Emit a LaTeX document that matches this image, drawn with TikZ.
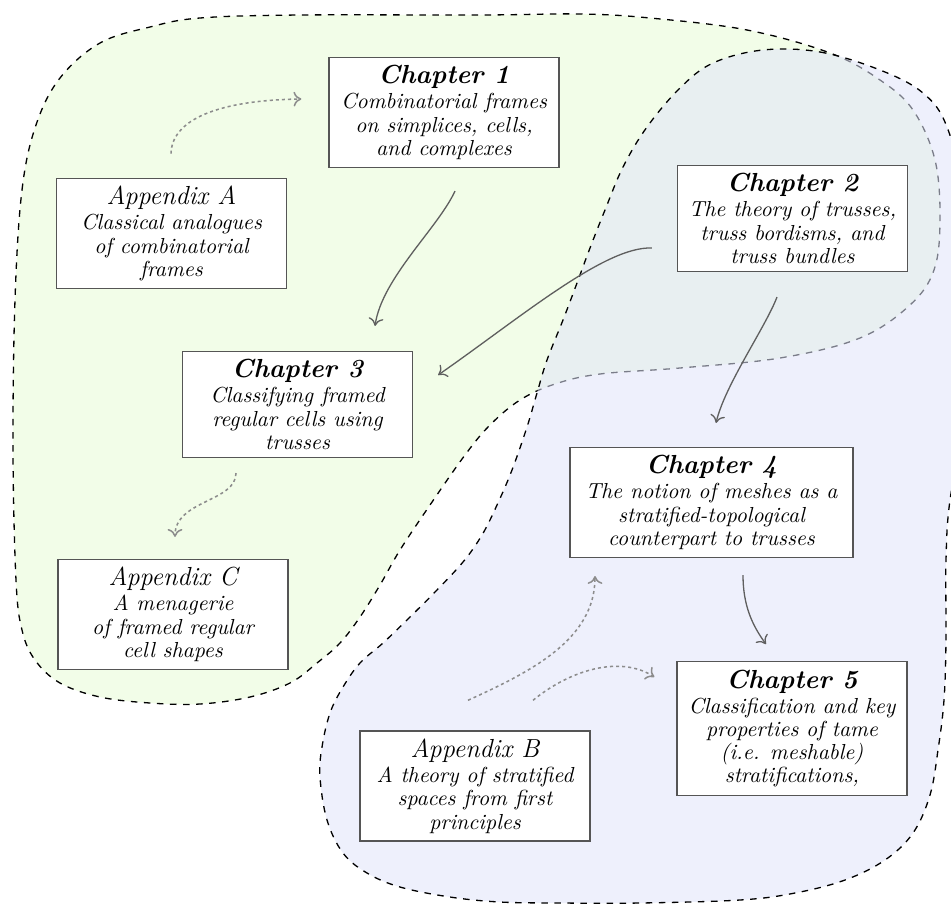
\documentclass[tikz,border=0pt]{standalone}
\usepackage{fontspec}
\usetikzlibrary{arrows.meta,calc}
\definecolor{greenfill}{RGB}{242,253,232}
\definecolor{bluefill}{RGB}{224,228,250}
\definecolor{boxline}{RGB}{85,85,85}
\definecolor{solidarr}{RGB}{95,95,95}
\definecolor{dotarr}{RGB}{140,140,140}
\tikzset{
  chapbox/.style={draw=boxline, line width=0.6pt, fill=white, align=center,
    minimum width=105.7pt, inner xsep=4pt, inner ysep=3.6pt,
    font=\fontsize{10}{10.7}\selectfont\itshape},
  solidarrow/.style={draw=solidarr, line width=0.6pt, -{To[length=3.6pt,width=6.8pt]}},
  dotarrow/.style={draw=dotarr, line width=0.7pt, dash pattern=on 1.4pt off 1.4pt,
    -{To[length=3.6pt,width=6.8pt]}},
  regionline/.style={dashed, line width=0.6pt, draw=black},
}
\newcommand{\chaptitle}[1]{{\fontsize{12}{12}\selectfont\bfseries #1}\\[0.8pt]}
\newcommand{\apptitle}[1]{{\fontsize{12}{12}\selectfont #1}\\[0.8pt]}
\begin{document}
\begin{tikzpicture}[x=0.4596pt, y=-0.4596pt]
\clip (0,0) rectangle (951,905);
% green region
\def\greenpath{plot[smooth cycle, tension=0.6] coordinates {
 (15,300) (22,190) (36,125) (60,78) (100,43) (150,27) (200,18) (300,15) (480,15) (580,14) (650,18)
 (747,30) (830,53) (880,80) (913,110) (935,160) (940,220) (934,270) (910,305)
 (860,338) (780,358) (680,368) (600,374) (555,384) (520,400) (490,425) (465,455)
 (430,505) (400,550) (380,585) (360,617) (340,643) (317,663) (290,683) (250,697)
 (200,704) (150,703) (100,697) (60,683) (35,660) (22,630) (16,580) (13,450)}}
\fill[greenfill] \greenpath;
\draw[regionline] \greenpath;
% blue region
\def\bluepath{plot[smooth cycle, tension=0.6] coordinates {
 (763,50) (820,52) (880,70) (923,93) (947,127) (965,200) (975,300) (965,420)
 (950,500) (946,560) (946,640) (944,700) (938,750) (930,795) (913,833) (885,860)
 (845,880) (795,893) (740,900) (640,903) (560,903) (500,902) (450,897) (400,887)
 (367,873) (343,853) (327,820) (320,777) (322,747) (330,713) (343,687) (360,663)
 (383,643) (410,617) (435,592) (463,562) (482,535) (497,505) (512,470) (527,427)
 (537,393) (547,360) (563,320) (577,283) (590,248) (605,210) (623,167) (647,127)
 (680,88) (713,63)}}
\fill[bluefill, fill opacity=0.55] \bluepath;
\draw[regionline] \bluepath;
% nodes
\node[chapbox] (ch1) at (444,112.5) {\chaptitle{Chapter 1}Combinatorial frames\\on simplices, cells,\\and complexes};
\node[chapbox] (appA) at (171.5,233.5) {\apptitle{Appendix A}Classical analogues\\of combinatorial\\frames};
\node[chapbox] (ch2) at (792.5,218.5) {\chaptitle{Chapter 2}The theory of trusses,\\truss bordisms, and\\truss bundles};
\node[chapbox] (ch3) at (297.5,404.5) {\chaptitle{Chapter 3}Classifying framed\\regular cells using\\trusses};
\node[chapbox] (appC) at (173,614.5) {\apptitle{Appendix C}A menagerie\\of framed regular\\cell shapes};
\node[chapbox, minimum width=130.1pt] (ch4) at (711.5,502.5) {\chaptitle{Chapter 4}The notion of meshes as a\\stratified-topological\\counterpart to trusses};
\node[chapbox] (ch5) at (792,728.5) {\chaptitle{Chapter 5}Classification and key\\properties of tame\\(i.e. meshable)\\stratifications,};
\node[chapbox] (appB) at (475,786) {\apptitle{Appendix B}A theory of stratified\\spaces from first\\principles};
% arrow end points
\coordinate (s13) at ($(ch1.south)+(11,23)$);
\coordinate (e13) at ($(ch3.north)+(77.5,-25)$);
\coordinate (s23) at ($(ch2.west)+(-25,29.5)$);
\coordinate (e23) at ($(ch3.east)+(25,-29.5)$);
\coordinate (s24) at ($(ch2.south)+(-15.5,25)$);
\coordinate (e24) at ($(ch4.north)+(4.5,-24)$);
\coordinate (s45) at ($(ch4.south)+(31.5,17)$);
\coordinate (e45) at ($(ch5.north)+(-26,-17)$);
\coordinate (sA1) at ($(appA.north)+(-0.5,-24)$);
\coordinate (eA1) at ($(ch1.west)+(-27,-13.5)$);
\coordinate (s3C) at ($(ch3.south)+(-61.5,15)$);
\coordinate (e3C) at ($(appC.north)+(2,-22)$);
\coordinate (sB4) at ($(appB.north)+(-7,-30)$);
\coordinate (eB4) at ($(ch4.south)+(-116.5,18)$);
\coordinate (sB5) at ($(appB.north)+(58,-30)$);
\coordinate (eB5) at ($(ch5.west)+(-22,-51.5)$);
% connectors
\draw[solidarrow] (s13) .. controls (438,228) and (382,278) .. (e13);
\draw[solidarrow] (s23) .. controls (605,246) and (520,318) .. (e23);
\draw[solidarrow] (s24) .. controls (765,328) and (725,385) .. (e24);
\draw[solidarrow] (s45) .. controls (743,605) and (752,625) .. (e45);
\draw[dotarrow] (sA1) .. controls (172,115) and (230,100) .. (eA1);
\draw[dotarrow] (s3C) .. controls (236,502) and (175,500) .. (e3C);
\draw[dotarrow] (sB4) .. controls (530,672) and (595,640) .. (eB4);
\draw[dotarrow] (sB5) .. controls (570,670) and (620,655) .. (eB5);
\end{tikzpicture}
\end{document}
